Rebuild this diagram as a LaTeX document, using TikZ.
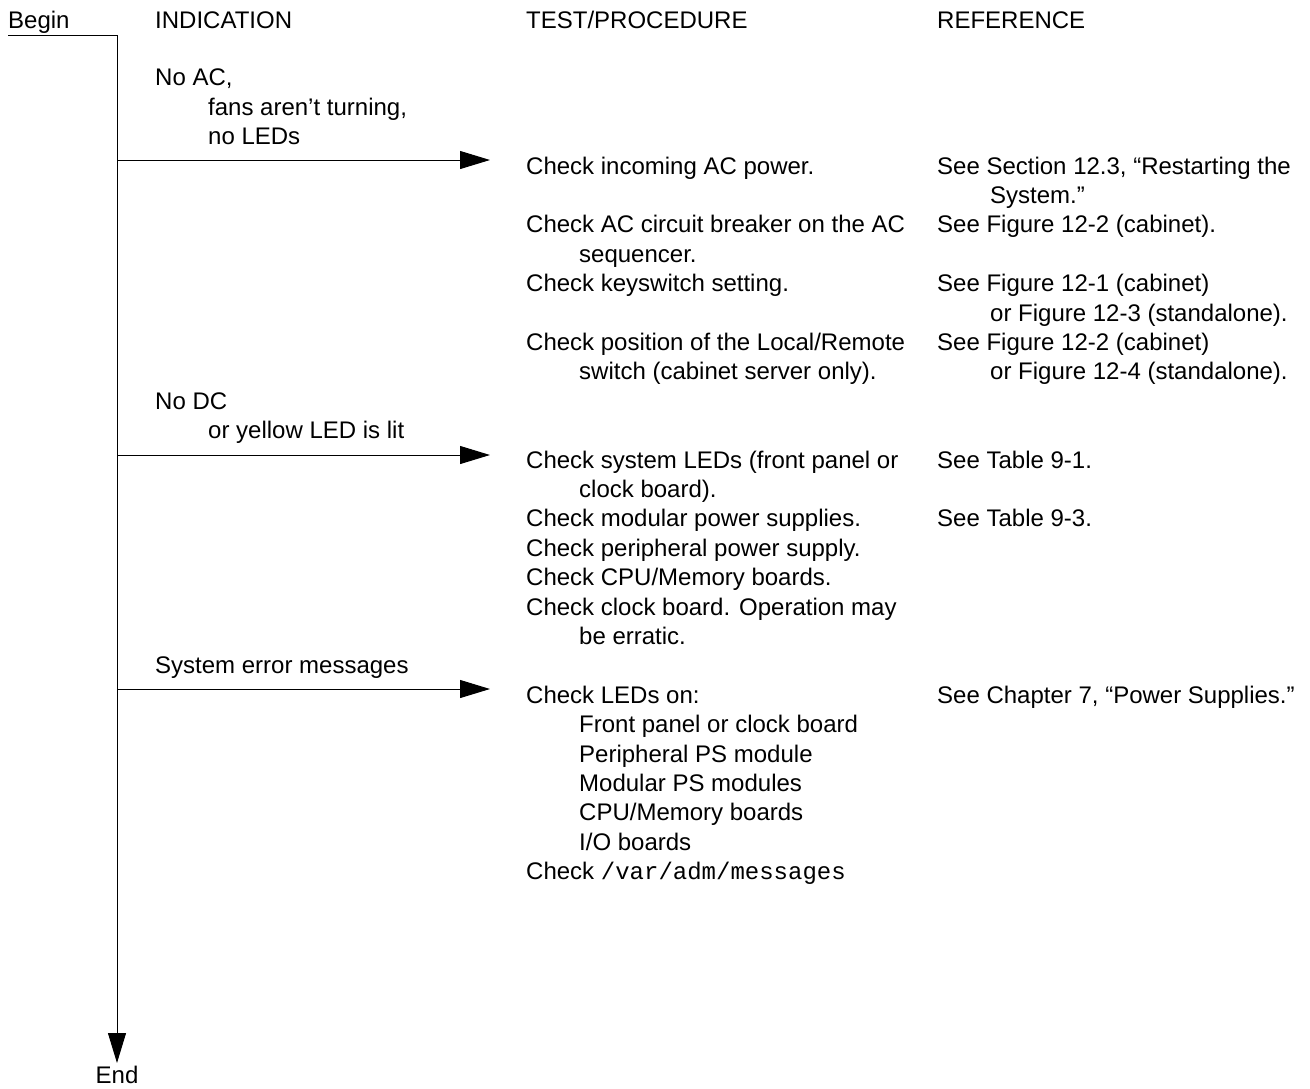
\documentclass[tikz,border=0pt]{standalone}
\usepackage{fontspec}
\setmainfont{Liberation Sans}
\setmonofont{Liberation Mono}
\usepackage{tikz}
\usetikzlibrary{arrows.meta}

\tikzset{
  txt/.style={anchor=base west,inner sep=0pt,font=\fontsize{24}{29.4}\selectfont},
  flow/.style={line width=1pt,-{Triangle[length=30pt,width=18pt]}}
}

\begin{document}
\begin{tikzpicture}[x=1pt,y=-1pt]
\useasboundingbox (0,0) rectangle (1310,1088);

% headings
\node[txt] (begin) at (8,28) {Begin};
\node[txt] (hind) at (155,28) {INDICATION};
\node[txt] (htst) at (526,28) {TEST/PROCEDURE};
\node[txt] (href) at (937,28) {REFERENCE};

% spine
\coordinate (s0) at (8,35);
\coordinate (s1) at (117,35);
\coordinate (stop) at (117,1063);
\draw[flow] (s0) -- (s1) -- (stop);
\node[anchor=north,inner sep=0pt,font=\fontsize{24}{29.4}\selectfont] (end) at (117,1066) {End};

% no AC
\node[txt] (ind1a) at (155,85.8) {No AC,};
\node[txt] (ind1b) at (208,115.2) {fans aren’t turning,};
\node[txt] (ind1c) at (208,144.6) {no LEDs};
\coordinate (a1) at (117,160);
\coordinate (h1) at (490,160);
\draw[flow] (a1) -- (h1);

\node[txt] (t1a) at (526,174) {Check incoming AC power.};
\node[txt] (t1b) at (526,232.8) {Check AC circuit breaker on the AC};
\node[txt] (t1c) at (579,262.2) {sequencer.};
\node[txt] (t1d) at (526,291.6) {Check keyswitch setting.};
\node[txt] (t1e) at (526,350.4) {Check position of the Local/Remote};
\node[txt] (t1f) at (579,379.8) {switch (cabinet server only).};

\node[txt] (r1a) at (937,174) {See Section 12.3, “Restarting the};
\node[txt] (r1b) at (990,203.4) {System.”};
\node[txt] (r1c) at (937,232.8) {See Figure 12-2 (cabinet).};
\node[txt] (r1d) at (937,291.6) {See Figure 12-1 (cabinet)};
\node[txt] (r1e) at (990,321) {or Figure 12-3 (standalone).};
\node[txt] (r1f) at (937,350.4) {See Figure 12-2 (cabinet)};
\node[txt] (r1g) at (990,379.8) {or Figure 12-4 (standalone).};

% no DC
\node[txt] (ind2a) at (155,409.2) {No DC};
\node[txt] (ind2b) at (208,438.6) {or yellow LED is lit};
\coordinate (a2) at (117,455);
\coordinate (h2) at (490,455);
\draw[flow] (a2) -- (h2);

\node[txt] (t2a) at (526,468) {Check system LEDs (front panel or};
\node[txt] (t2b) at (579,497.4) {clock board).};
\node[txt] (t2c) at (526,526.8) {Check modular power supplies.};
\node[txt] (t2d) at (526,556.2) {Check peripheral power supply.};
\node[txt] (t2e) at (526,585.6) {Check CPU/Memory boards.};
\node[txt] (t2f) at (526,615) {Check clock board. Operation may};
\node[txt] (t2g) at (579,644.4) {be erratic.};

\node[txt] (r2a) at (937,468) {See Table 9-1.};
\node[txt] (r2b) at (937,526.8) {See Table 9-3.};

% error messages
\node[txt] (ind3a) at (155,673.8) {System error messages};
\coordinate (a3) at (117,689);
\coordinate (h3) at (490,689);
\draw[flow] (a3) -- (h3);

\node[txt] (t3a) at (526,703.2) {Check LEDs on:};
\node[txt] (t3b) at (579,732.6) {Front panel or clock board};
\node[txt] (t3c) at (579,762) {Peripheral PS module};
\node[txt] (t3d) at (579,791.4) {Modular PS modules};
\node[txt] (t3e) at (579,820.8) {CPU/Memory boards};
\node[txt] (t3f) at (579,850.2) {I/O boards};
\node[txt] (t3g) at (526,879.6) {Check \texttt{/var/adm/messages}};

\node[txt] (r3a) at (937,703.2) {See Chapter 7, “Power Supplies.”};
\end{tikzpicture}
\end{document}
